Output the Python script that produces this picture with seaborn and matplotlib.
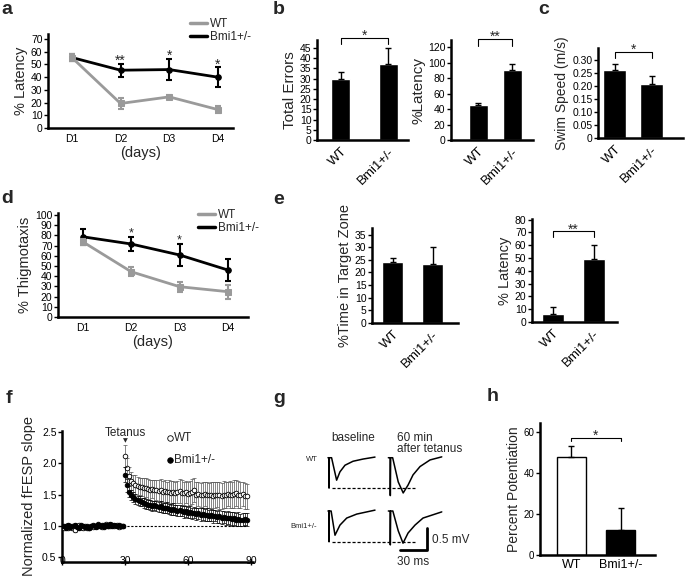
import matplotlib
matplotlib.use('Agg')
import matplotlib.pyplot as plt
import seaborn as sns

# ---- data ----
groups = ['WT', 'Bmi1+/-']
days = ['D1', 'D2', 'D3', 'D4']
day_pos = [1, 2, 3, 4]

# a: % latency over training days
lat_wt = [55.5, 19.3, 24.5, 14.5]
lat_wt_err = [3, 4.5, 1.2, 3]
lat_bmi = [55.5, 45.5, 46, 40]
lat_bmi_err = [3, 5, 8.5, 8]
lat_stars = ['', '**', '*', '*']

# b: total errors / % latency
errors_total = [29.8, 37.3]
errors_total_err = [3.3, 7.4]
probe_latency = [45.6, 91.3]
probe_latency_err = [3, 7.4]

# c: swim speed
swim_speed = [0.263, 0.209]
swim_speed_err = [0.02, 0.028]

# d: thigmotaxis
thig_wt = [73.8, 44.4, 29.7, 24.8]
thig_wt_err = [3, 4.5, 5, 7]
thig_bmi = [78.7, 71.6, 60.8, 46]
thig_bmi_err = [8, 6.5, 10.6, 11]
thig_stars = ['', '*', '*', '']

# e: target zone / reversal latency
target_zone = [24, 23.5]
target_zone_err = [1.7, 6.5]
reversal_latency = [6.1, 49.6]
reversal_latency_err = [5.4, 10.4]

# f: normalized fEPSP slope (min)
f_time = list(range(0, 89))
f_wt = [0.98, 0.97, 0.99, 0.96, 1.00, 0.97, 0.94, 0.99, 1.01, 0.98,
        0.97, 1.00, 0.96, 0.97, 0.99, 0.98, 1.00, 1.02, 0.99, 0.98,
        1.01, 1.03, 0.99, 1.00, 1.02, 0.99, 1.01, 0.98, 1.00, 0.99,
        2.12, 1.93, 1.80, 1.72, 1.68, 1.66, 1.64, 1.63, 1.62, 1.60,
        1.61, 1.59, 1.58, 1.59, 1.57, 1.58, 1.56, 1.57, 1.55, 1.56,
        1.54, 1.55, 1.53, 1.54, 1.52, 1.54, 1.56, 1.53, 1.52, 1.54,
        1.51, 1.53, 1.55, 1.57, 1.50, 1.51, 1.49, 1.50, 1.51, 1.50,
        1.49, 1.50, 1.48, 1.49, 1.50, 1.49, 1.48, 1.50, 1.49, 1.51,
        1.50, 1.49, 1.51, 1.52, 1.50, 1.49, 1.51, 1.48, 1.47]
f_wt_err = [0.03, 0.02, 0.03, 0.03, 0.02, 0.03, 0.04, 0.03, 0.02, 0.03,
            0.03, 0.02, 0.03, 0.03, 0.02, 0.03, 0.04, 0.03, 0.02, 0.03,
            0.03, 0.02, 0.03, 0.03, 0.02, 0.03, 0.04, 0.03, 0.02, 0.03,
            0.17, 0.16, 0.15, 0.14, 0.14, 0.15, 0.15, 0.14, 0.15, 0.16,
            0.15, 0.16, 0.16, 0.15, 0.17, 0.16, 0.17, 0.18, 0.17, 0.18,
            0.17, 0.18, 0.19, 0.18, 0.19, 0.18, 0.19, 0.20, 0.19, 0.18,
            0.20, 0.19, 0.20, 0.19, 0.21, 0.20, 0.19, 0.21, 0.20, 0.21,
            0.20, 0.21, 0.22, 0.21, 0.20, 0.22, 0.21, 0.22, 0.21, 0.20,
            0.22, 0.21, 0.22, 0.21, 0.22, 0.21, 0.20, 0.21, 0.20]
f_bmi = [1.00, 0.99, 0.97, 1.01, 0.98, 1.00, 1.02, 0.98, 0.97, 1.01,
         1.00, 0.98, 0.99, 0.97, 1.00, 1.01, 0.98, 1.03, 1.00, 1.01,
         0.98, 1.02, 1.00, 1.03, 0.99, 1.02, 1.00, 1.01, 0.99, 1.00,
         1.82, 1.65, 1.55, 1.49, 1.46, 1.43, 1.41, 1.39, 1.38, 1.36,
         1.35, 1.34, 1.34, 1.32, 1.33, 1.31, 1.30, 1.31, 1.29, 1.28,
         1.29, 1.27, 1.26, 1.27, 1.25, 1.24, 1.25, 1.23, 1.22, 1.23,
         1.21, 1.22, 1.20, 1.21, 1.19, 1.20, 1.18, 1.19, 1.17, 1.18,
         1.16, 1.17, 1.15, 1.16, 1.14, 1.15, 1.13, 1.14, 1.12, 1.13,
         1.12, 1.11, 1.12, 1.10, 1.11, 1.09, 1.10, 1.11, 1.10]
f_bmi_err = [0.02, 0.03, 0.02, 0.03, 0.03, 0.02, 0.03, 0.02, 0.03, 0.02,
             0.02, 0.03, 0.02, 0.03, 0.03, 0.02, 0.03, 0.02, 0.03, 0.02,
             0.02, 0.03, 0.02, 0.03, 0.03, 0.02, 0.03, 0.02, 0.03, 0.02,
             0.12, 0.10, 0.09, 0.08, 0.08, 0.08, 0.07, 0.08, 0.07, 0.08,
             0.08, 0.07, 0.08, 0.08, 0.07, 0.08, 0.08, 0.09, 0.08, 0.08,
             0.09, 0.08, 0.09, 0.09, 0.08, 0.09, 0.09, 0.08, 0.09, 0.09,
             0.09, 0.10, 0.09, 0.09, 0.10, 0.09, 0.10, 0.09, 0.10, 0.10,
             0.09, 0.10, 0.10, 0.09, 0.10, 0.10, 0.10, 0.09, 0.10, 0.10,
             0.10, 0.11, 0.10, 0.10, 0.11, 0.10, 0.11, 0.10, 0.11]
tetanus_min = 30

# g: example traces (ms, mV)
tr_wt_base_t = [0, 1.0, 1.2, 1.5, 4.0, 9.6, 13.3, 18.9, 27.8, 38.9, 52.2]
tr_wt_base_v = [0, 0, -0.69, 0, 0, -0.51, -0.32, -0.17, -0.08, -0.03, 0.015]
tr_wt_post_t = [0, 2.0, 2.2, 2.6, 4.8, 11, 16.5, 21.9, 27.4, 35.2, 46.3, 59.3]
tr_wt_post_v = [0, 0, -0.86, 0, 0, -0.55, -0.80, -0.62, -0.39, -0.20, -0.05, 0.02]
tr_bmi_base_t = [0, 1.0, 1.2, 1.5, 3.5, 7.8, 13.3, 20.8, 31.9, 52.2]
tr_bmi_base_v = [0, 0, -0.70, 0, 0, -0.55, -0.32, -0.16, -0.07, 0.02]
tr_bmi_post_t = [0, 2.0, 2.2, 2.6, 5.0, 11, 16.3, 21.9, 29.6, 38.5, 59.3]
tr_bmi_post_v = [0, 0, -0.77, 0, 0, -0.45, -0.73, -0.50, -0.32, -0.16, -0.02]
scale_ms = 30
scale_mv = 0.5

# h: percent potentiation
potentiation = [48, 12]
potentiation_err = [5.3, 11]

# ---- style ----
sns.set_style('ticks')
plt.rcParams['font.family'] = ['Liberation Sans', 'DejaVu Sans']
GRAY = '#9a9a9a'
W, H = 685, 576
fig = plt.figure(figsize=(W / 100, H / 100), dpi=100)


def panel_axes(l, t, r, b):
    return fig.add_axes([l / W, 1 - b / H, (r - l) / W, (b - t) / H])


def clean(ax, tick_fs=7.5):
    sns.despine(ax=ax)
    for s in ('left', 'bottom'):
        ax.spines[s].set_linewidth(1.8)
        ax.spines[s].set_color('black')
    ax.tick_params(axis='y', length=3, width=1, labelsize=tick_fs, pad=1, colors='black')
    ax.tick_params(axis='x', length=0, labelsize=tick_fs, colors='black')


def bracket(ax, y, arm, label, fs=10):
    ax.plot([0, 0, 1, 1], [y - arm, y, y, y - arm], color='black', lw=0.8, clip_on=False)
    ax.annotate(label, (0.5, y), xytext=(0, -1.5), textcoords='offset points',
                ha='center', va='baseline', fontsize=fs, annotation_clip=False)


def bar_panel(ax, vals, errs, ylabel, xlim, ylim, yticks, width, fs_label=10.5,
              rotate=True, colors=None):
    if colors is None:
        sns.barplot(x=groups, y=vals, color='black', width=width, errorbar=None,
                    saturation=1, ax=ax)
    else:
        sns.barplot(x=groups, y=vals, hue=groups, palette=colors, width=width,
                    errorbar=None, saturation=1, edgecolor='black', linewidth=1,
                    legend=False, ax=ax)
    ax.errorbar([0, 1], vals, yerr=[[0, 0], errs], fmt='none', ecolor='black',
                elinewidth=1, capsize=2.5, capthick=1)
    ax.set_xlim(*xlim)
    ax.set_ylim(*ylim)
    ax.set_yticks(yticks)
    ax.set_xlabel('')
    ax.set_ylabel(ylabel, fontsize=fs_label, labelpad=2)
    clean(ax)
    if rotate:
        ax.set_xticks([0, 1])
        ax.set_xticklabels(groups, rotation=45, ha='right', rotation_mode='anchor', fontsize=9.5)
        ax.tick_params(axis='x', pad=4)


def line_panel(ax, wt, wt_err, bmi, bmi_err, stars, ylabel, xlim, ylim, yticks, star_fs,
               star_dy):
    sns.lineplot(x=day_pos, y=bmi, color='black', marker='o', markersize=4,
                 markeredgecolor='black', lw=2, ax=ax, zorder=3)
    ax.errorbar(day_pos, bmi, yerr=bmi_err, fmt='none', ecolor='black', elinewidth=1.5,
                capsize=2, capthick=1.5, zorder=3)
    sns.lineplot(x=day_pos, y=wt, color=GRAY, marker='s', markersize=4,
                 markeredgecolor=GRAY, lw=2, ax=ax, zorder=4)
    ax.errorbar(day_pos, wt, yerr=wt_err, fmt='none', ecolor=GRAY, elinewidth=1.5,
                capsize=2, capthick=1.5, zorder=4)
    for x, m, e, s in zip(day_pos, bmi, bmi_err, stars):
        if s:
            ax.annotate(s, (x, m + e), xytext=(0, star_dy), textcoords='offset points',
                        ha='center', va='baseline', fontsize=star_fs)
    ax.set_xlim(*xlim)
    ax.set_ylim(*ylim)
    ax.set_yticks(yticks)
    ax.set_xticks(day_pos)
    ax.set_xticklabels(days)
    ax.set_xlabel('(days)', fontsize=10.5, labelpad=2)
    ax.set_ylabel(ylabel, fontsize=10.5, labelpad=2)
    clean(ax)
    ax.tick_params(axis='x', pad=4)
    handles = [plt.Line2D([], [], color=GRAY, lw=2.5), plt.Line2D([], [], color='black', lw=2.5)]
    return handles


# ---- a ----
ax = panel_axes(48, 34, 233, 128)
h = line_panel(ax, lat_wt, lat_wt_err, lat_bmi, lat_bmi_err, lat_stars, '% Latency',
               (0.51, 4.31), (0, 74), range(0, 71, 10), 10, -1)
ax.legend(h, groups, loc='upper left', bbox_to_anchor=(0.74, 1.22), frameon=False,
          fontsize=8.5, handlelength=1.5, handletextpad=0.2, labelspacing=0.05,
          borderaxespad=0)

# ---- b ----
ax = panel_axes(317, 40, 408, 140)
bar_panel(ax, errors_total, errors_total_err, 'Total Errors', (-0.495, 1.41), (0, 48.8),
          range(0, 46, 5), 0.39, fs_label=11)
bracket(ax, 49.7, 3, '*')

ax = panel_axes(451, 40, 533, 140)
bar_panel(ax, probe_latency, probe_latency_err, '%Latency', (-0.81, 1.61), (0, 129.6),
          range(0, 121, 20), 0.55, fs_label=11)
bracket(ax, 130.8, 8.5, '**')

# ---- c ----
ax = panel_axes(598, 48, 683, 138)
bar_panel(ax, swim_speed, swim_speed_err, 'Swim Speed (m/s)', (-0.455, 1.85), (0, 0.346),
          [0, 0.05, 0.10, 0.15, 0.20, 0.25, 0.30], 0.63, fs_label=10)
ax.set_yticklabels(['0', '0.05', '0.10', '0.15', '0.20', '0.25', '0.30'])
bracket(ax, 0.33, 0.024, '*')

# ---- d ----
ax = panel_axes(58, 213, 248, 317)
h = line_panel(ax, thig_wt, thig_wt_err, thig_bmi, thig_bmi_err, thig_stars, '% Thigmotaxis',
               (0.49, 4.41), (0, 102), range(0, 101, 10), 9, 0.5)
ax.legend(h, groups, loc='upper left', bbox_to_anchor=(0.71, 1.08), frameon=False,
          fontsize=8.5, handlelength=1.5, handletextpad=0.2, labelspacing=0.05,
          borderaxespad=0)

# ---- e ----
ax = panel_axes(372, 228, 458, 323)
bar_panel(ax, target_zone, target_zone_err, '%Time in Target Zone', (-0.52, 1.64), (0, 37.6),
          range(0, 36, 5), 0.54, fs_label=10.5)

ax = panel_axes(532, 219, 617, 322)
bar_panel(ax, reversal_latency, reversal_latency_err, '% Latency', (-0.51, 1.57), (0, 80.5),
          range(0, 81, 10), 0.53, fs_label=10.5)
bracket(ax, 70.9, 4.8, '**')

# ---- f ----
ax = panel_axes(62, 431, 253, 562)
ax.hlines(1.0, f_time[tetanus_min - 1], f_time[-1], colors='black', lw=0.8,
          linestyles=(0, (2, 1.5)), zorder=1)
ax.errorbar(f_time, f_wt, yerr=f_wt_err, fmt='none', ecolor='#555555', elinewidth=0.5,
            capsize=1.5, capthick=0.5, zorder=2)
sns.scatterplot(x=f_time, y=f_wt, marker='o', s=11, color='white', edgecolor='black',
                linewidth=0.6, ax=ax, zorder=3, label='WT')
ax.errorbar(f_time, f_bmi, yerr=f_bmi_err, fmt='none', ecolor='black', elinewidth=0.5,
            capsize=1.5, capthick=0.5, zorder=4)
sns.scatterplot(x=f_time, y=f_bmi, marker='o', s=11, color='black', edgecolor='black',
                linewidth=0.6, ax=ax, zorder=5, label='Bmi1+/-')
ax.set_xlim(0, 91)
ax.set_ylim(0.42, 2.52)
ax.set_xticks([0, 30, 60, 90])
ax.set_yticks([0.5, 1.0, 1.5, 2.0, 2.5])
ax.set_ylabel('Normalized fFESP slope', fontsize=10.5, labelpad=4)
clean(ax)
ax.tick_params(axis='x', length=4, width=1, direction='inout', pad=-6)
ax.text(tetanus_min, 2.49, 'Tetanus', ha='center', va='center', fontsize=8.5)
ax.text(tetanus_min, 2.36, '\u25bc', ha='center', va='center', fontsize=4.5,
        family=['DejaVu Sans'])
ax.legend(loc='upper left', bbox_to_anchor=(0.52, 1.03), frameon=False, fontsize=8.5,
          handlelength=0.6, handletextpad=0.1, labelspacing=0.9, borderaxespad=0,
          markerscale=1.2)

# ---- g ----
ax = panel_axes(295, 430, 475, 570)
ax.set_xlim(-36.6, 163.2)
ax.set_ylim(-2.55, 0.63)
ax.axis('off')
post_shift = 67
row_shift = -1.21
traces = [
    (tr_wt_base_t, tr_wt_base_v, 0, 0),
    (tr_wt_post_t, tr_wt_post_v, post_shift, 0),
    (tr_bmi_base_t, tr_bmi_base_v, 0, row_shift),
    (tr_bmi_post_t, tr_bmi_post_v, post_shift, row_shift),
]
for t, v, dx, dy in traces:
    sns.lineplot(x=[ti + dx for ti in t], y=[vi + dy for vi in v], sort=False,
                 estimator=None, color='black', lw=1.1, ax=ax)
for v, dy in ((tr_wt_base_v, 0), (tr_bmi_base_v, row_shift)):
    ax.hlines(min(v) + dy, 4, 97, colors='black', lw=0.9, linestyles=(0, (2.5, 1.5)))
ax.plot([110 - scale_ms, 110, 110], [-2.10, -2.10, -2.10 + scale_mv], color='black', lw=2)
ax.text(27.8, 0.45, 'baseline', ha='center', va='center', fontsize=8.5)
ax.text(76.6, 0.32, '60 min\nafter tetanus', ha='left', va='center', fontsize=8.5,
        linespacing=0.95)
ax.text(-11, -0.05, 'WT', ha='right', va='center', fontsize=5.5)
ax.text(-12, -1.57, 'Bmi1+/-', ha='right', va='center', fontsize=5.5)
ax.text(115, -1.87, '%.1f mV' % scale_mv, ha='left', va='center', fontsize=8.5)
ax.text(94, -2.37, '%d ms' % scale_ms, ha='center', va='center', fontsize=8.5)

# ---- h ----
ax = panel_axes(540, 423, 655, 555)
bar_panel(ax, potentiation, potentiation_err, 'Percent Potentiation', (-0.63, 1.69),
          (0, 64.4), [0, 20, 40, 60], 0.59, fs_label=10, rotate=False,
          colors=['white', 'black'])
ax.tick_params(axis='x', labelsize=9, pad=3)
ax.tick_params(axis='y', labelsize=7)
bracket(ax, 57, 1.6, '*')

# ---- panel letters ----
for letter, x, y in [('a', 1, 14), ('b', 273, 14), ('c', 538, 14), ('d', 1, 203),
                     ('e', 273, 204), ('f', 6, 403), ('g', 273, 403), ('h', 487, 401)]:
    fig.text(x / W, 1 - y / H, letter, fontsize=14, fontweight='bold', ha='left',
             va='baseline')

fig.savefig('out.png', dpi=100)
